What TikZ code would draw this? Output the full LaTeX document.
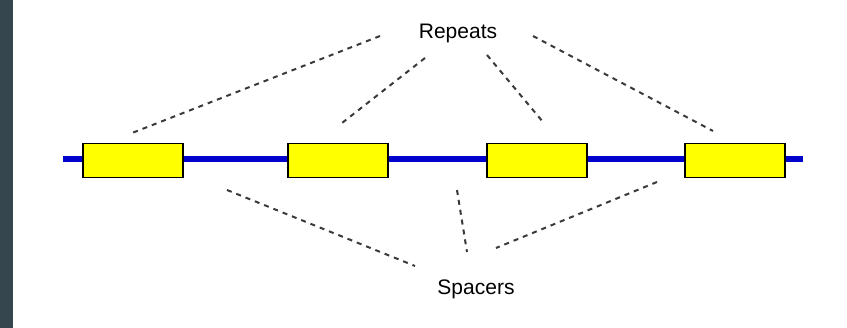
\documentclass[tikz,border=0pt]{standalone}
\usepackage{fontspec}
\setmainfont{Liberation Sans}
\definecolor{barcol}{HTML}{36464F}
\definecolor{dashcol}{HTML}{3A3A3A}
\definecolor{boxyellow}{HTML}{FFFF00}
\definecolor{lineblue}{HTML}{0000CC}
\begin{document}
\begin{tikzpicture}[x=1pt,y=-1pt,
  repeatbox/.style={draw=black, line width=1.5pt, fill=boxyellow, minimum width=100pt, minimum height=34pt, inner sep=0pt, anchor=north west},
  guide/.style={draw=dashcol, line width=2pt, dash pattern=on 5pt off 5pt},
  label/.style={font=\fontsize{21}{24}\selectfont, inner sep=0pt}]
\useasboundingbox (0,0) rectangle (847,328);
\fill[white] (0,0) rectangle (847,328);
\fill[barcol] (0,0) rectangle (13,328);
% backbone
\coordinate (bl) at (63,159);
\coordinate (br) at (803,159);
\draw[lineblue, line width=6.5pt] (bl) -- (br);
% repeats
\node[repeatbox] (r1) at (82,143) {};
\node[repeatbox] (r2) at (287,143) {};
\node[repeatbox] (r3) at (486,143) {};
\node[repeatbox] (r4) at (684,143) {};
% labels
\node[label] (rep) at (458,33) {Repeats};
\node[label] (spa) at (476,289) {Spacers};
% repeat guides
\coordinate (a1) at (380,36);  \coordinate (b1) at (132,133);
\coordinate (a2) at (425,58);  \coordinate (b2) at (342,123);
\coordinate (a3) at (487,55);  \coordinate (b3) at (543,122);
\coordinate (a4) at (533,36);  \coordinate (b4) at (713,131);
\draw[guide] (a1) -- (b1);
\draw[guide] (a2) -- (b2);
\draw[guide] (a3) -- (b3);
\draw[guide] (a4) -- (b4);
% spacer guides
\coordinate (c1) at (227,190); \coordinate (d1) at (415,266);
\coordinate (c2) at (457,190); \coordinate (d2) at (467,252);
\coordinate (c3) at (657,182); \coordinate (d3) at (496,248);
\draw[guide] (c1) -- (d1);
\draw[guide] (c2) -- (d2);
\draw[guide] (c3) -- (d3);
\end{tikzpicture}
\end{document}
